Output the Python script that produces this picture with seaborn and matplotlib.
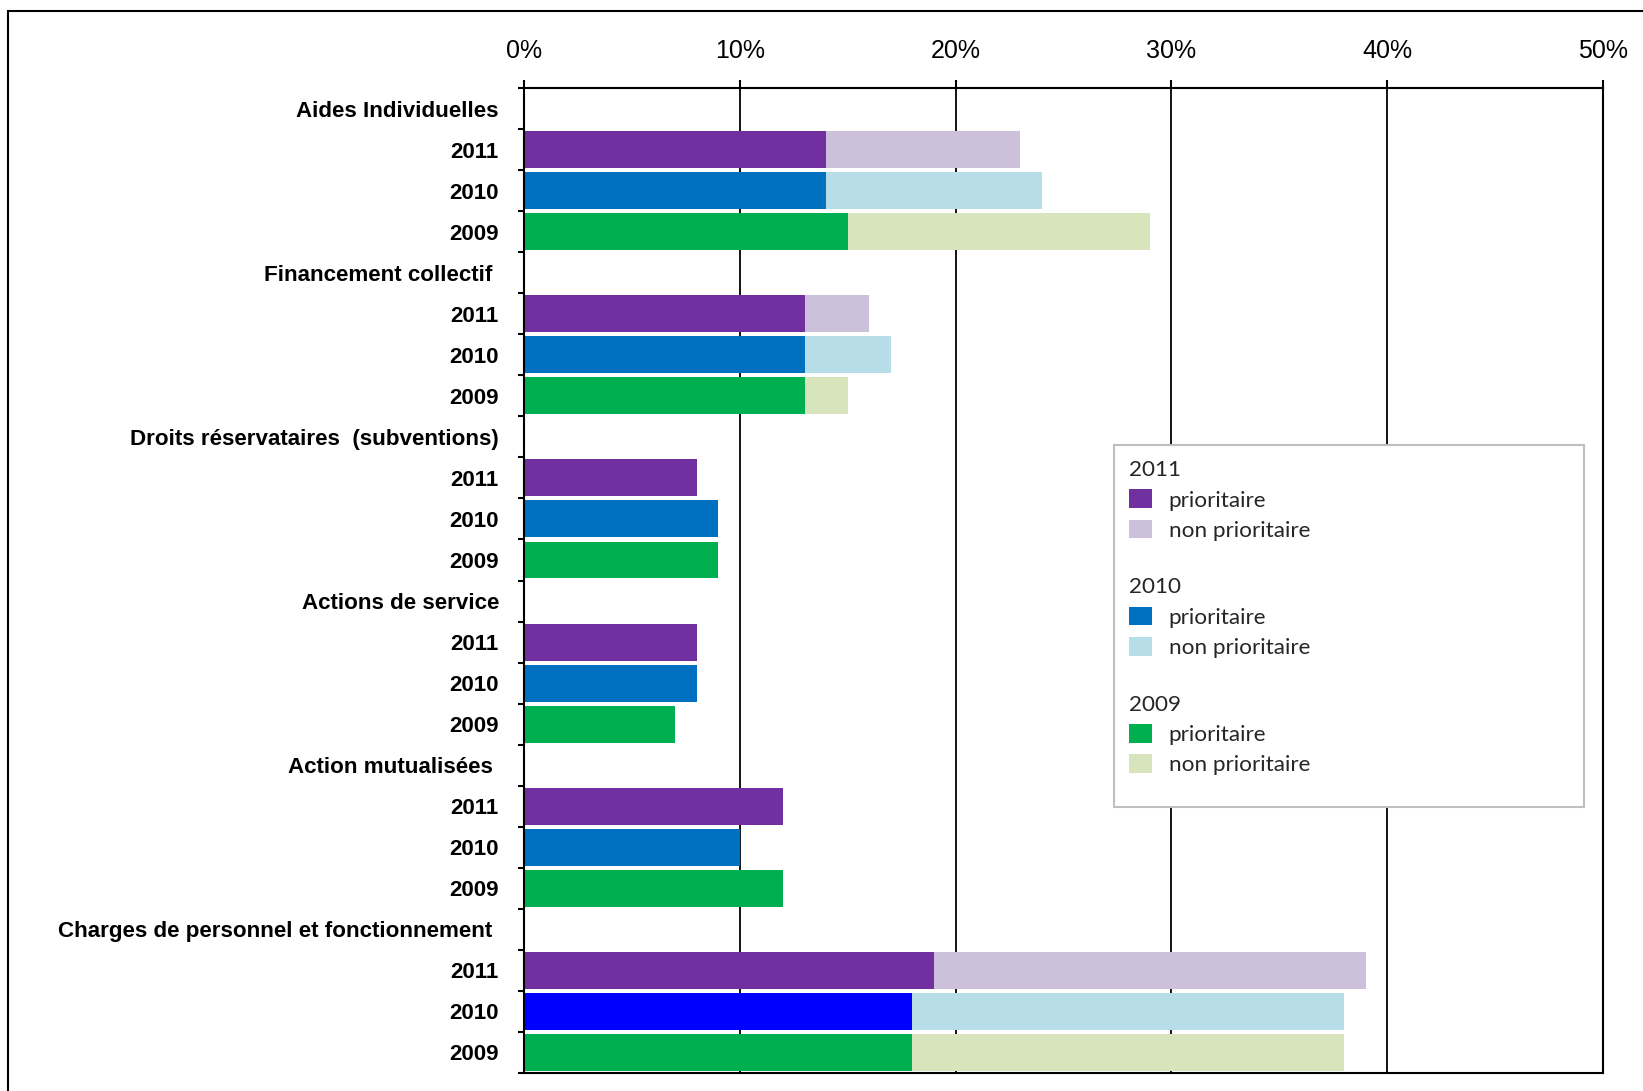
import matplotlib
matplotlib.use("Agg")
import matplotlib.pyplot as plt
import pandas as pd
import seaborn as sns
from matplotlib.patches import Patch, Rectangle
from matplotlib.ticker import PercentFormatter

# data (percent)
categories = ["Aides Individuelles", "Financement collectif ", "Droits réservataires  (subventions)",
              "Actions de service", "Action mutualisées ", "Charges de personnel et fonctionnement "]
years = ["2011", "2010", "2009"]

prio_2011 = [14, 13, 8, 8, 12, 19]
prio_2010 = [14, 13, 9, 8, 10, 18]
prio_2009 = [15, 13, 9, 7, 12, 18]
non_2011 = [9, 3, 0, 0, 0, 20]
non_2010 = [10, 4, 0, 0, 0, 20]
non_2009 = [14, 2, 0, 0, 0, 20]

colors = {"2011 prio": "#7030A0", "2011 non": "#CCC0DA",
          "2010 prio": "#0070C0", "2010 non": "#B7DEE8",
          "2009 prio": "#00B050", "2009 non": "#D8E4BC",
          "2010 prio bleu": "#0000FF"}

prio = {"2011": prio_2011, "2010": prio_2010, "2009": prio_2009}
non = {"2011": non_2011, "2010": non_2010, "2009": non_2009}

rows = []
order = []
labels = []
for i, cat in enumerate(categories):
    order.append(f"h{i}")
    labels.append(cat)
    for year in years:
        key = f"{i}-{year}"
        order.append(key)
        labels.append(year)
        p = prio[year][i]
        n = non[year][i]
        col = f"{year} prio"
        if year == "2010" and i == len(categories) - 1:
            col = "2010 prio bleu"  # the odd bright blue bar
        rows.append({"row": key, "prio": p, "total": p + n,
                     "col_prio": col, "col_non": f"{year} non"})
df = pd.DataFrame(rows)

sns.set_theme(style="white")
plt.rcParams["font.family"] = ["Liberation Sans", "DejaVu Sans"]

fig, ax = plt.subplots(figsize=(16.43, 10.91), dpi=100)
fig.subplots_adjust(left=0.3189, right=0.9757, top=0.9193, bottom=0.0165)

pal_non = {k: colors[k] for k in df["col_non"].unique()}
pal_prio = {k: colors[k] for k in df["col_prio"].unique()}

# totals first, priority part drawn on top
sns.barplot(data=df, x="total", y="row", hue="col_non", order=order, palette=pal_non,
            dodge=False, width=0.9, saturation=1, errorbar=None, legend=False,
            orient="h", linewidth=0, ax=ax)
sns.barplot(data=df, x="prio", y="row", hue="col_prio", order=order, palette=pal_prio,
            dodge=False, width=0.9, saturation=1, errorbar=None, legend=False,
            orient="h", linewidth=0, ax=ax)

ax.set_xlim(0, 50)
ax.set_ylim(len(order) - 0.5, -0.5)
ax.set_xlabel("")
ax.set_ylabel("")

# y axis: labels at row centres, small ticks at row boundaries
ax.set_yticks(range(len(order)))
ax.set_yticklabels(labels, fontweight="bold", fontsize=16.1, color="black")
ax.set_yticks([i - 0.5 for i in range(len(order) + 1)], minor=True)
ax.tick_params(axis="y", which="major", length=0, pad=18)
ax.tick_params(axis="y", which="minor", length=4.5, width=1.5, direction="out",
               left=True, color="black")

# x axis on top
ax.xaxis.tick_top()
ax.set_xticks(range(0, 51, 10))
ax.xaxis.set_major_formatter(PercentFormatter(xmax=100, decimals=0))
ax.tick_params(axis="x", which="major", length=6, width=1.5, direction="out",
               pad=12, labelsize=18, colors="black", top=True)

ax.grid(axis="x", color="black", linewidth=1.3)
ax.grid(axis="y", visible=False)
ax.set_axisbelow(True)
for s in ax.spines.values():
    s.set_visible(True)
    s.set_color("black")
    s.set_linewidth(1.5)

# legend box
fig.add_artist(Rectangle((0.678, 0.2603), 0.286, 0.3317, transform=fig.transFigure,
                         facecolor="white", edgecolor="#BFBFBF", linewidth=1.5))
for j, year in enumerate(years):
    handles = [Patch(facecolor=colors[f"{year} prio"], linewidth=0),
               Patch(facecolor=colors[f"{year} non"], linewidth=0)]
    fig.legend(handles, ["prioritaire", "non prioritaire"], title=year,
               loc="upper left", bbox_to_anchor=(0.6805, 0.5885 - j * 0.1075),
               frameon=False, borderpad=0, alignment="left",
               prop={"family": "Lato", "size": 16.2},
               title_fontproperties={"family": "Lato", "size": 16.2},
               handlelength=1.0, handleheight=0.9, handletextpad=0.75,
               labelspacing=0.41)

# outer frame (only top and left are on the canvas)
fig.add_artist(Rectangle((0.0049, -0.5), 2, 1.4899, transform=fig.transFigure,
                         fill=False, edgecolor="black", linewidth=1.5))

plt.savefig("out.png", dpi=100)
plt.close()
